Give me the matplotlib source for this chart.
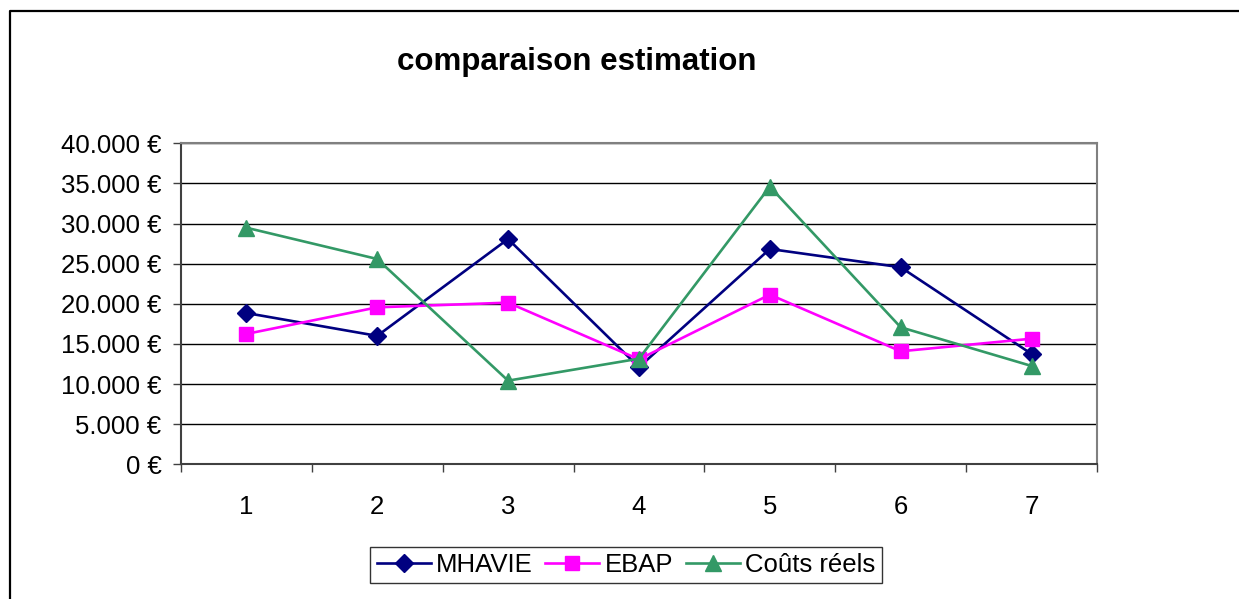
import matplotlib
matplotlib.use("Agg")
from matplotlib import pyplot as plt
from matplotlib.lines import Line2D
from matplotlib.ticker import FuncFormatter, FixedLocator
import numpy as np

plt.rcParams['font.family'] = ['Liberation Sans', 'DejaVu Sans']

categories = [1, 2, 3, 4, 5, 6, 7]
mhavie = [18850, 16000, 28070, 12100, 26830, 24550, 13750]
ebap = [16240, 19560, 20140, 13080, 21140, 14080, 15650]
couts_reels = [29480, 25580, 10420, 13160, 34600, 17070, 12250]
y_ticks = [0, 5000, 10000, 15000, 20000, 25000, 30000, 35000, 40000]


def euro(v, pos=None):
	# format like Excel: 40.000 €
	return "{:,.0f} €".format(v).replace(",", ".")


fig = plt.figure(figsize=(12.39, 5.99), dpi=100)
ax = fig.add_axes([0.146, 0.2249, 0.7394, 0.5359])

# outer chart frame: only left and top edges show in the picture
fig.lines.append(Line2D([10 / 1239, 10 / 1239, 1.0], [0.0, 1 - 11 / 599, 1 - 11 / 599],
	transform=fig.transFigure, color="black", linewidth=1.6))

x = np.arange(len(categories))
ax.plot(x, mhavie, color="#000080", marker="D", markersize=9, linewidth=1.9, label="MHAVIE")
ax.plot(x, ebap, color="#FF00FF", marker="s", markersize=10, linewidth=1.9, label="EBAP")
ax.plot(x, couts_reels, color="#339966", marker="^", markersize=11, linewidth=1.9, label="Coûts réels")

ax.set_xlim(-0.5, len(categories) - 0.5)
ax.set_ylim(0, 40000)
ax.set_yticks(y_ticks)
ax.yaxis.set_major_formatter(FuncFormatter(euro))
ax.set_xticks(x)
ax.set_xticklabels([str(c) for c in categories])
ax.xaxis.set_minor_locator(FixedLocator(np.arange(-0.5, len(categories), 1.0)))
ax.tick_params(axis="x", which="major", length=0, pad=22, labelsize=18.5)
ax.tick_params(axis="x", which="minor", length=6, width=1, color="#404040", direction="out")
ax.tick_params(axis="y", length=6, width=1, color="#404040", labelsize=18.5, pad=8)

ax.grid(axis="y", color="black", linewidth=1)
ax.set_axisbelow(True)
for side in ["top", "right"]:
	ax.spines[side].set_color("#808080")
	ax.spines[side].set_linewidth(1.5)
for side in ["left", "bottom"]:
	ax.spines[side].set_color("#404040")
	ax.spines[side].set_linewidth(1.5)

fig.text(577 / 1239, 1 - 62 / 599, "comparaison estimation", ha="center", va="center",
	fontsize=22.5, fontweight="bold")

leg = fig.legend(loc="center", bbox_to_anchor=(626 / 1239, 1 - 565 / 599), ncol=3,
	frameon=True, fancybox=False, fontsize=18.5, handlelength=2.1, columnspacing=0.5,
	handletextpad=0.2, borderpad=0.25, borderaxespad=0)
leg.get_frame().set_edgecolor("black")
leg.get_frame().set_linewidth(1)

fig.savefig("out.png", dpi=100)
